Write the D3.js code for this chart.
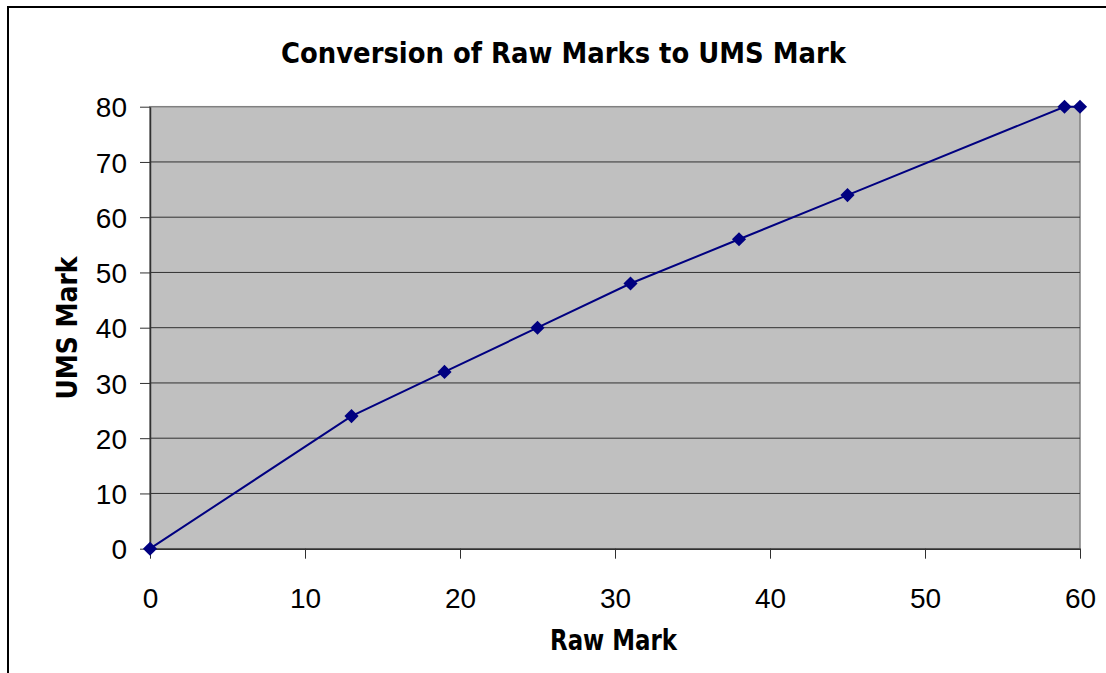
<!DOCTYPE html>
<html>
<head>
<meta charset="utf-8">
<script src="https://cdn.jsdelivr.net/npm/d3@7"></script>
<style>
  body { margin: 0; background: #fff; }
</style>
</head>
<body>
<svg width="1106" height="673"></svg>
<script>
// raw mark -> UMS mark
const rawMarks = [0, 13, 19, 25, 31, 38, 45, 59, 60];
const umsMarks = [0, 24, 32, 40, 48, 56, 64, 80, 80];
const xTicks = [0, 10, 20, 30, 40, 50, 60];
const yTicks = [0, 10, 20, 30, 40, 50, 60, 70, 80];
const chartTitle = "Conversion of Raw Marks to UMS Mark";
const xTitle = "Raw Mark";
const yTitle = "UMS Mark";

const data = rawMarks.map((r, i) => ({raw: r, ums: umsMarks[i]}));

const svg = d3.select("svg");
const plot = {left: 150, top: 106.7, right: 1080, bottom: 548.7};

// outer frame (runs off the right / bottom of the picture)
svg.append("rect")
    .attr("x", 8).attr("y", 7)
    .attr("width", 1300).attr("height", 900)
    .attr("fill", "none")
    .attr("stroke", "#000")
    .attr("stroke-width", 2);

const x = d3.scaleLinear().domain([0, 60]).range([plot.left, plot.right]);
const y = d3.scaleLinear().domain([0, 80]).range([plot.bottom, plot.top]);

// plot area
svg.append("rect")
    .attr("x", plot.left).attr("y", plot.top)
    .attr("width", plot.right - plot.left)
    .attr("height", plot.bottom - plot.top)
    .attr("fill", "#c0c0c0")
    .attr("stroke", "#808080")
    .attr("stroke-width", 1.5);

// gridlines
svg.append("g")
  .selectAll("line")
  .data(yTicks.filter(d => d > 0 && d < 80))
  .join("line")
    .attr("x1", plot.left).attr("x2", plot.right)
    .attr("y1", d => y(d)).attr("y2", d => y(d))
    .attr("stroke", "#303030")
    .attr("stroke-width", 1);

const yAxis = svg.append("g")
    .attr("transform", `translate(${plot.left},0)`)
    .call(d3.axisLeft(y).tickValues(yTicks).tickSize(10).tickPadding(13).tickSizeOuter(0));

const xAxis = svg.append("g")
    .attr("transform", `translate(0,${plot.bottom})`)
    .call(d3.axisBottom(x).tickValues(xTicks).tickSize(10).tickPadding(35).tickSizeOuter(0));

for (const ax of [xAxis, yAxis]) {
  ax.select(".domain").attr("stroke", "#303030").attr("stroke-width", 1.5);
  ax.selectAll(".tick line").attr("stroke", "#303030").attr("stroke-width", 1);
  ax.selectAll(".tick text")
      .attr("font-family", "'Liberation Sans', Arial, sans-serif")
      .attr("font-size", 28)
      .attr("fill", "#000");
}
yAxis.selectAll(".tick text").attr("dy", "0.36em");
xAxis.selectAll(".tick text").attr("dy", "0.5em");

// series line
svg.append("path")
    .datum(data)
    .attr("fill", "none")
    .attr("stroke", "#000080")
    .attr("stroke-width", 2)
    .attr("d", d3.line().x(d => x(d.raw)).y(d => y(d.ums)));

// diamond markers
svg.append("g")
  .selectAll("path")
  .data(data)
  .join("path")
    .attr("transform", d => `translate(${x(d.raw)},${y(d.ums)}) rotate(45)`)
    .attr("d", d3.symbol(d3.symbolSquare, 100))
    .attr("fill", "#000080");

const boldFont = "'DejaVu Sans', Verdana, sans-serif";

svg.append("text")
    .attr("x", 563.5).attr("y", 63)
    .attr("text-anchor", "middle")
    .attr("font-family", boldFont)
    .attr("font-weight", "bold")
    .attr("font-size", 28)
    .attr("textLength", 565)
    .attr("lengthAdjust", "spacingAndGlyphs")
    .text(chartTitle);

svg.append("text")
    .attr("x", 613.5).attr("y", 650)
    .attr("text-anchor", "middle")
    .attr("font-family", boldFont)
    .attr("font-weight", "bold")
    .attr("font-size", 28)
    .attr("textLength", 127)
    .attr("lengthAdjust", "spacingAndGlyphs")
    .text(xTitle);

svg.append("text")
    .attr("transform", "translate(77,328) rotate(-90)")
    .attr("text-anchor", "middle")
    .attr("font-family", boldFont)
    .attr("font-weight", "bold")
    .attr("font-size", 28)
    .attr("textLength", 143)
    .attr("lengthAdjust", "spacingAndGlyphs")
    .text(yTitle);
</script>
</body>
</html>
